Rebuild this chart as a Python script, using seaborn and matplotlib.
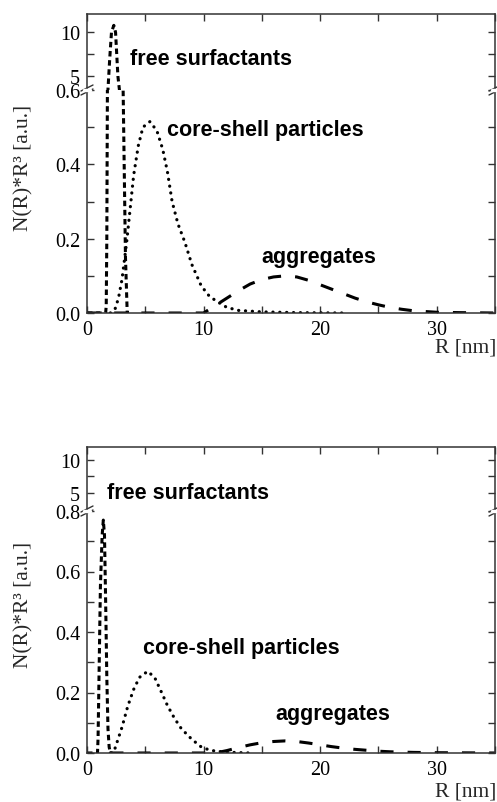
import matplotlib
matplotlib.use("Agg")
import pandas as pd
import matplotlib.pyplot as plt
import seaborn as sns
from matplotlib.ticker import MultipleLocator, FixedLocator

# ---- upper figure data (R in nm, N(R)*R^3 in a.u.) ----
free1_r = [0.0, 1.0, 1.6, 1.65, 1.7, 1.75, 1.8, 1.95, 2.1, 2.3, 2.45, 2.55, 2.65, 2.9, 3.1, 3.3, 3.45, 3.6]
free1_y = [0.0, 0.0, 0.0, 0.02, 0.2, 0.6, 3.5, 7.0, 10.0, 10.8, 10.0, 7.5, 5.0, 2.0, 0.6, 0.15, 0.0, 0.0]

core1_r = [2.0, 2.4, 2.7, 3.0, 3.4, 3.7, 4.0, 4.4, 4.8, 5.4, 6.0, 6.5, 6.9, 7.3, 7.8, 8.4, 9.0, 9.8,
           10.5, 11.2, 12.0, 13.0, 15.0, 18.0, 22.0]
core1_y = [0.0, 0.01, 0.04, 0.09, 0.19, 0.28, 0.37, 0.45, 0.5, 0.515, 0.49, 0.44, 0.38, 0.3, 0.24, 0.19,
           0.13, 0.073, 0.045, 0.03, 0.015, 0.007, 0.003, 0.001, 0.0]

agg1_r = [0.0, 4.0, 10.0, 11.0, 12.0, 13.0, 14.0, 15.0, 16.0, 17.0, 18.0, 19.0, 20.0, 21.0, 22.0, 23.0,
          24.0, 25.0, 26.0, 27.0, 28.0, 29.0, 30.0, 32.0, 35.0]
agg1_y = [0.0, 0.0, 0.0, 0.02, 0.04, 0.06, 0.078, 0.09, 0.097, 0.1, 0.097, 0.088, 0.076, 0.064, 0.052,
          0.04, 0.03, 0.022, 0.015, 0.01, 0.006, 0.004, 0.002, 0.001, 0.0]

# ---- lower figure data ----
free2_r = [0.0, 0.8, 0.9, 0.95, 1.05, 1.15, 1.3, 1.4, 1.5, 1.6, 1.7, 1.8, 1.9, 2.0, 2.2]
free2_y = [0.0, 0.0, 0.0, 0.05, 0.3, 0.55, 0.72, 0.77, 0.72, 0.5, 0.25, 0.08, 0.02, 0.0, 0.0]

core2_r = [2.0, 2.4, 2.7, 3.0, 3.5, 4.0, 4.5, 5.2, 5.8, 6.4, 6.9, 7.5, 8.1, 9.0, 9.8, 10.5, 11.2,
           12.5, 14.0]
core2_y = [0.0, 0.015, 0.05, 0.085, 0.155, 0.21, 0.25, 0.27, 0.25, 0.2, 0.157, 0.115, 0.08, 0.045,
           0.02, 0.01, 0.005, 0.002, 0.0]

agg2_r = [2.0, 6.0, 11.0, 12.0, 13.0, 14.0, 15.0, 16.0, 17.0, 18.0, 19.0, 20.0, 21.0, 22.0, 23.0, 24.0,
          25.0, 26.0, 28.0, 30.0, 35.0]
agg2_y = [0.0, 0.0, 0.0, 0.008, 0.018, 0.027, 0.034, 0.038, 0.04, 0.038, 0.033, 0.027, 0.021, 0.016,
          0.012, 0.009, 0.006, 0.004, 0.002, 0.001, 0.0]

labels = ["free surfactants", "core-shell particles", "aggregates"]

sns.set_style("ticks")
plt.rcParams["font.family"] = ["Liberation Serif", "DejaVu Serif"]
plt.rcParams["axes.edgecolor"] = "#333333"
plt.rcParams["xtick.color"] = "#333333"
plt.rcParams["ytick.color"] = "#333333"
plt.rcParams["xtick.labelcolor"] = "black"
plt.rcParams["ytick.labelcolor"] = "black"

W, H = 497, 803
fig = plt.figure(figsize=(W / 100, H / 100), dpi=100)


def px_axes(x0, y_top, x1, y_bot):
    return fig.add_axes([x0 / W, 1 - y_bot / H, (x1 - x0) / W, (y_bot - y_top) / H])


styles = {
    "free": dict(lw=2.2, linestyle=(0, (1.8, 1.2))),
    "core": dict(lw=2.3, linestyle=(0, (0.05, 2.1)), dash_capstyle="round"),
    "agg": dict(lw=2.2, linestyle=(0, (4.3, 4.6))),
}


def draw_panel(y_top, y_break, y_bot, hi_lim, lo_lim, lo_major, curves, notes):
    ax_hi = px_axes(87, y_top, 495, y_break)
    ax_lo = px_axes(87, y_break, 495, y_bot)
    for ax in (ax_hi, ax_lo):
        for key, (r, y) in curves.items():
            df = pd.DataFrame({"R": r, "N": y})
            sns.lineplot(data=df, x="R", y="N", ax=ax, color="black", **styles[key])
        ax.set_xlim(0, 35)
        ax.set_xlabel("")
        ax.set_ylabel("")
        ax.xaxis.set_major_locator(MultipleLocator(10))
        ax.xaxis.set_minor_locator(MultipleLocator(5))
        for s in ax.spines.values():
            s.set_linewidth(1.1)
        ax.tick_params(which="both", direction="in", right=True, labelsize=14.5,
                       width=1.0, pad=5)
        ax.tick_params(which="major", length=5)
        ax.tick_params(which="minor", length=5)
    ax_hi.set_ylim(*hi_lim)
    ax_hi.yaxis.set_major_locator(FixedLocator([5, 10]))
    ax_hi.yaxis.set_minor_locator(FixedLocator([7.5]))
    ax_hi.spines["bottom"].set_visible(False)
    ax_hi.tick_params(which="both", top=True, bottom=False, labelbottom=False)
    ax_hi.set_yticklabels(["5", "10"])

    ax_lo.set_ylim(*lo_lim)
    ax_lo.yaxis.set_major_locator(MultipleLocator(0.2))
    ax_lo.yaxis.set_minor_locator(MultipleLocator(0.1))
    ax_lo.set_yticks(lo_major)
    ax_lo.set_yticklabels([f"{v:.1f}" for v in lo_major])
    ax_lo.spines["top"].set_visible(False)
    ax_lo.tick_params(which="both", top=False)

    # break marks on both spines
    bb = ax_lo.get_position()
    w_px, h_px = bb.width * W, bb.height * H
    for xa in (0, 1):
        for off in (-2.0, 2.0):
            ax_lo.plot([xa - 6 / w_px, xa + 6 / w_px],
                       [1 + (off - 3) / h_px, 1 + (off + 3) / h_px],
                       transform=ax_lo.transAxes, color="#333333", lw=1.0, clip_on=False)
        ax_lo.plot([xa - 3 / w_px, xa + 3 / w_px], [1, 1], transform=ax_lo.transAxes,
                   color="white", lw=2.5, clip_on=False, zorder=5)

    for (which, x, y, txt) in notes:
        ax = ax_hi if which == "hi" else ax_lo
        ax.text(x, y, txt, family=["Liberation Sans", "DejaVu Sans"], fontweight="bold",
                fontsize=15.5, ha="left", va="center", color="black")
    return ax_hi, ax_lo


draw_panel(15, 91, 314, (3.4, 12.1), (0, 0.6), [0.0, 0.2, 0.4, 0.6],
           {"free": (free1_r, free1_y), "core": (core1_r, core1_y), "agg": (agg1_r, agg1_y)},
           [("hi", 3.7, 7.0, labels[0]), ("lo", 6.9, 0.495, labels[1]),
            ("lo", 15.0, 0.153, labels[2])])

draw_panel(448, 512, 754, (2.3, 11.9), (0, 0.8), [0.0, 0.2, 0.4, 0.6, 0.8],
           {"free": (free2_r, free2_y), "core": (core2_r, core2_y), "agg": (agg2_r, agg2_y)},
           [("hi", 1.7, 5.1, labels[0]), ("lo", 4.8, 0.348, labels[1]),
            ("lo", 16.2, 0.13, labels[2])])

for yc in (168, 605):
    fig.text(24 / W, 1 - yc / H, "N(R)*R³ [a.u.]", rotation=90, ha="center", va="center",
             fontsize=15.5)
for yc in (348, 792):
    fig.text(496 / W, 1 - yc / H, "R [nm]", ha="right", va="center", fontsize=15.5)

fig.savefig("out.png", dpi=100)
